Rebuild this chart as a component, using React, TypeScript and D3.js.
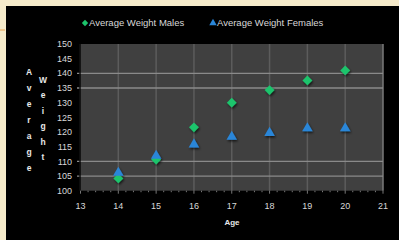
import * as d3 from "d3";
import React from "react";

// chart data
const ages = [14, 15, 16, 17, 18, 19, 20];
const maleWeights = [104.2, 110.6, 121.6, 130, 134.3, 137.6, 141];
const femaleWeights = [106.1, 111.9, 115.8, 118.4, 119.7, 121.3, 121.3];
const xTicks = [13, 14, 15, 16, 17, 18, 19, 20, 21];
const yTicks = [100, 105, 110, 115, 120, 125, 130, 135, 140, 145, 150];
const hGridValues = [105, 110, 135, 140];
const yTitleA = "Average";
const yTitleB = "Weight";

const W = 399;
const H = 240;
const plot = { left: 80.5, right: 383, top: 44, bottom: 190.7 };
const FONT = "'Liberation Sans', Arial, sans-serif";

const App = () => {
  const x = d3.scaleLinear().domain([13, 21]).range([plot.left, plot.right]);
  const y = d3.scaleLinear().domain([100, 150]).range([plot.bottom, plot.top]);

  const diamond = d3.symbol().type(d3.symbolDiamond2).size(62)() as string;
  const triangle = d3.symbol().type(d3.symbolTriangle).size(48)() as string;

  const minorTicks = d3.range(13, 21.001, 0.2);

  return (
    <div style={{ position: "fixed", left: 0, top: 0 }}>
      <svg width={W} height={H} style={{ display: "block" }}>
        <defs>
          <filter id="shadow" x="-50%" y="-50%" width="200%" height="200%">
            <feDropShadow dx="1" dy="1.5" stdDeviation="1" floodColor="#000" floodOpacity="0.7" />
          </filter>
        </defs>
        {/* slide background */}
        <rect x={0} y={0} width={W} height={H} fill="#f6ebcb" />
        <line x1={0} x2={5} y1={30} y2={30} stroke="#e8a050" strokeWidth={1} />
        <rect x={6} y={6} width={W - 6} height={H - 6} fill="#000" />

        {/* plot area */}
        <rect x={plot.left} y={plot.top} width={plot.right - plot.left} height={plot.bottom - plot.top} fill="#404040" />
        {ages.map((a) => (
          <line key={"v" + a} x1={x(a)} x2={x(a)} y1={plot.top} y2={plot.bottom} stroke="#5c5c5c" strokeWidth={1.5} />
        ))}
        <line x1={plot.right} x2={plot.right} y1={plot.top} y2={plot.bottom} stroke="#7a7a7a" strokeWidth={1.5} />
        {hGridValues.map((v) => (
          <line key={"h" + v} x1={77} x2={plot.right} y1={y(v)} y2={y(v)} stroke="#8a8a8a" strokeWidth={1.3} />
        ))}
        <line x1={plot.left - 0.5} x2={plot.left - 0.5} y1={plot.top} y2={plot.bottom} stroke="#111" strokeWidth={1.5} />
        {minorTicks.map((t, i) => (
          <line key={"m" + i} x1={x(t)} x2={x(t)} y1={plot.bottom} y2={plot.bottom + (i % 5 === 0 ? 3 : 1.5)} stroke="#777" strokeWidth={1} />
        ))}

        {/* y tick labels */}
        {yTicks.map((v) => (
          <text key={"yt" + v} x={72} y={y(v)} dy="0.35em" textAnchor="end" fill="#d8d8d8" fontSize={9} fontFamily={FONT}>
            {v}
          </text>
        ))}
        {/* x tick labels */}
        {xTicks.map((v) => (
          <text key={"xt" + v} x={x(v)} y={209} textAnchor="middle" fill="#d8d8d8" fontSize={9} fontFamily={FONT}>
            {v}
          </text>
        ))}

        {/* axis titles */}
        <text x={232} y={225} textAnchor="middle" fill="#e8e8e8" fontSize={8} fontWeight="bold" fontFamily={FONT}>
          Age
        </text>
        {yTitleA.split("").map((c, i) => (
          <text key={"a" + i} x={29} y={72 + i * 16} dy="0.35em" textAnchor="middle" fill="#e8e8e8" fontSize={8.5} fontWeight="bold" fontFamily={FONT}>
            {c}
          </text>
        ))}
        {yTitleB.split("").map((c, i) => (
          <text key={"b" + i} x={43} y={80 + i * 15.4} dy="0.35em" textAnchor="middle" fill="#e8e8e8" fontSize={8.5} fontWeight="bold" fontFamily={FONT}>
            {c}
          </text>
        ))}

        {/* series */}
        <g filter="url(#shadow)">
          {ages.map((a, i) => (
            <path key={"m" + a} d={diamond} transform={`translate(${x(a)},${y(maleWeights[i])})`} fill="#1cc46c" />
          ))}
          {ages.map((a, i) => (
            <path key={"f" + a} d={triangle} transform={`translate(${x(a)},${y(femaleWeights[i])})`} fill="#2a86d8" />
          ))}
        </g>

        {/* legend */}
        <path d={d3.symbol().type(d3.symbolDiamond2).size(26)() as string} transform="translate(85,23)" fill="#1cc46c" />
        <text x={89} y={23} dy="0.35em" fill="#d8d8d8" fontSize={9.5} fontFamily={FONT}>
          Average Weight Males
        </text>
        <path d={d3.symbol().type(d3.symbolTriangle).size(24)() as string} transform="translate(213,23)" fill="#2a86d8" />
        <text x={217} y={23} dy="0.35em" fill="#d8d8d8" fontSize={9.5} fontFamily={FONT}>
          Average Weight Females
        </text>
      </svg>
    </div>
  );
};

export default App;
